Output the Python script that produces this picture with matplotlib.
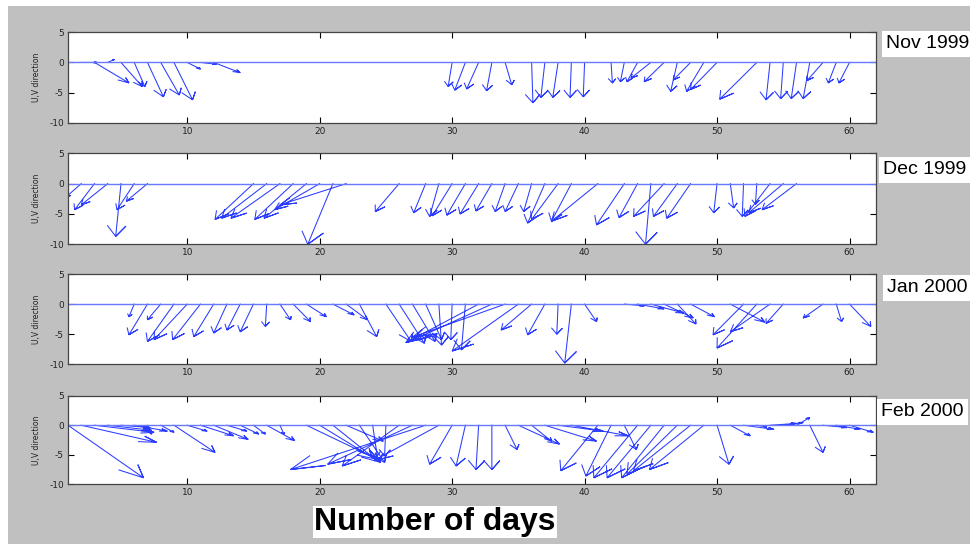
# Feather plots of U,V direction for four months (MATLAB-style)
import numpy as np
import matplotlib
matplotlib.use('Agg')
import matplotlib.pyplot as plt
from matplotlib.patches import Rectangle

plt.rcParams['axes.unicode_minus'] = False

months = ['Nov 1999', 'Dec 1999', 'Jan 2000', 'Feb 2000']

nov_day = [2, 3, 4, 5, 6, 7, 8, 9, 10, 11, 12,
           30, 31, 32, 33, 34, 36, 37, 38, 39, 40, 42, 43, 44, 45, 46, 47, 48, 49, 50,
           53, 54, 55, 56, 57, 58, 59, 60]
nov_u = [1.2, 2.6, 0.5, 1.6, 0.8, 1.2, 1.4, 1.4, 1.0, 1.2, 2.0,
         -0.3, -0.8, -0.9, -0.4, 0.5, 0.1, -0.3, -0.4, -0.1, -0.1, 0.1, -0.3, -0.8, -1.5, -1.5, -0.5, -1.3, -1.3, -2.0,
         -2.8, -0.3, -0.2, -0.4, -0.5, -1.2, -0.6, -0.8]
nov_v = [0.0, -3.4, 0.5, -4.0, -4.0, -5.7, -5.4, -6.2, -1.1, -0.3, -1.7,
         -4.0, -4.6, -4.4, -4.7, -3.7, -6.7, -5.8, -5.8, -5.8, -5.7, -3.4, -3.2, -3.2, -2.6, -3.2, -4.8, -2.9, -4.8, -4.5,
         -6.1, -6.2, -6.0, -6.0, -6.0, -3.0, -3.4, -3.4]

dec_day = [2, 3, 4, 5, 6, 7, 15, 16, 17, 18, 19, 20, 21, 22, 26,
           28, 29, 30, 31, 32, 33, 34, 35, 36, 37, 38, 39, 41, 43, 44, 45, 46, 47, 48,
           50, 51, 52, 53, 54, 55, 56]
dec_u = [-1.2, -1.5, -2.0, -0.4, -1.3, -1.6, -2.9, -3.4, -3.7, -2.9, -3.2, -3.4, -1.9, -5.0, -1.8,
         -0.9, -0.7, -1.5, -1.4, -1.4, -1.2, -0.75, -1.0, -0.6, -1.3, -2.0, -1.5, -3.5, -2.1, -1.4, -0.4, -2.3, -1.8, -1.8,
         -0.25, 0.25, -0.1, -0.1, -1.9, -2.6, -2.6]
dec_v = [-2.3, -4.3, -3.5, -8.7, -4.3, -2.9, -5.9, -5.7, -5.7, -5.9, -5.7, -4.3, -10.0, -3.5, -4.6,
         -4.8, -5.4, -5.3, -5.2, -5.0, -4.5, -4.6, -4.6, -4.6, -6.5, -5.9, -6.2, -6.2, -6.8, -5.6, -10.0, -5.4, -5.4, -5.7,
         -4.8, -4.0, -5.4, -3.4, -5.4, -4.8, -4.3]

jan_day = [6, 7, 8, 9, 10, 11, 12, 13, 14, 15, 16, 17, 18, 19, 21, 22, 23,
           25, 26, 27, 28, 29, 30, 31, 32, 33, 34, 35, 36, 37, 38, 39, 40,
           43, 44, 45, 46, 47, 48, 51, 52, 53, 54, 55, 58, 59, 60]
jan_u = [-0.4, -1.4, -1.0, -2.0, -2.5, -2.1, -1.5, -1.0, -1.0, -1.0, -0.1, 0.8, 1.3, 1.5, 1.6, 1.6, 1.3,
         1.9, 1.9, 1.7, 1.2, 0.2, -0.1, -0.3, -5.5, -6.0, -7.0, -5.0, -2.3, -1.3, -0.1, -0.5, 0.9,
         1.5, 2.0, 2.5, 2.2, 1.4, 1.8, 2.6, -2.3, -3.0, -3.0, -1.3, -1.5, 0.4, 1.6]
jan_v = [-2.1, -5.1, -2.6, -6.2, -5.9, -5.9, -5.4, -4.8, -4.3, -4.6, -3.7, -2.6, -2.9, -2.1, -1.8, -2.6, -5.4,
         -6.2, -6.5, -6.2, -5.9, -6.8, -5.9, -7.6, -6.4, -6.0, -5.5, -7.8, -4.3, -5.1, -5.0, -9.8, -2.9,
         -0.3, -0.8, -1.5, -2.3, -3.3, -2.1, -3.0, -5.1, -7.3, -4.6, -3.2, -2.3, -2.9, -3.7]

feb_day = [1, 2, 3, 4, 5, 6, 7, 8, 9, 10, 11, 12, 13, 14, 15, 16, 17,
           19, 20, 21, 22, 23, 24, 25, 26, 27, 28, 29, 30, 31, 32, 33, 34, 35, 36, 37, 38, 39,
           41, 42, 43, 44, 45, 46, 47, 48, 49, 50, 51, 52, 53, 54, 55, 56, 57, 58, 59, 60]
feb_u = [5.7, 5.7, 4.5, 3.3, 2.2, 2.5, 0.3, 1.0, 3.1, 1.5, 2.5, 2.6, 1.5, 1.4, 0.9, 2.1, 0.3,
         5.4, 4.6, 2.9, 2.8, 1.9, 0.4, -0.1, -4.3, -6.4, -10.2, -4.9, -1.7, -0.7, -0.2, 0.0, 0.9, 3.1, 1.5, 3.9, 3.4, 4.3,
         -2.8, -1.9, 0.9, -3.3, -3.3, -3.2, -3.8, -4.3, -4.1, 0.9, 1.5, 2.3, 0.75, 2.0, 1.5, 1.0, 1.0, 1.8, 1.8, 1.8]
feb_v = [-8.9, -2.9, -1.2, -0.85, -0.4, -1.0, -1.5, -1.2, -4.6, -1.0, -1.8, -2.4, -1.0, -1.5, -1.5, -2.6, -1.5,
         -5.8, -6.3, -5.2, -2.7, -6.3, -6.0, -5.2, -6.9, -6.6, -7.5, -6.0, -6.6, -6.9, -7.5, -7.5, -4.1, -3.2, -2.7, -2.7, -1.0, -1.8,
         -7.7, -8.6, -4.1, -8.9, -8.9, -8.9, -8.3, -7.7, -7.5, -6.6, -1.8, -0.7, -0.3, 0.3, 0.45, 1.3, -4.6, -0.4, -0.7, -1.2]

panels = [(nov_day, nov_u, nov_v), (dec_day, dec_u, dec_v),
          (jan_day, jan_u, jan_v), (feb_day, feb_u, feb_v)]

# same arrow shape as MATLAB feather: shaft plus head at 80% length
arrow = np.array([0, 1, 0.8 + 0.08j, 1, 0.8 - 0.08j])

fig = plt.figure(figsize=(9.8, 5.44), dpi=100, facecolor='white')
fig.add_artist(Rectangle((8 / 980, 0), 962 / 980, 538 / 544, transform=fig.transFigure,
                         facecolor='#c0c0c0', edgecolor='none', zorder=-10))

# axes boxes in pixels (top, bottom)
boxes = [(32.3, 122.7), (153.3, 244.3), (274, 364.3), (395.7, 484.3)]
label_y = [44, 170, 288, 412]
label_x = [886, 883, 887, 881]

for (days, u, v), (top, bot), m, ly, lx in zip(panels, boxes, months, label_y, label_x):
    ax = fig.add_axes([68 / 980, 1 - bot / 544, 808 / 980, (bot - top) / 544])
    xs, ys = [], []
    for d, uu, vv in zip(days, u, v):
        pts = arrow * complex(uu, vv)
        xs += list(d + pts.real) + [np.nan]
        ys += list(pts.imag) + [np.nan]
    ax.plot(xs, ys, color='#2a3cff', lw=0.75, solid_joinstyle='miter')
    ax.axhline(0, color='#6878ff', lw=1.0)
    ax.set_xlim(1, 62)
    ax.set_ylim(-10, 5)
    ax.set_xticks([10, 20, 30, 40, 50, 60])
    ax.set_yticks([-10, -5, 0, 5])
    ax.tick_params(direction='in', length=4, width=0.8, top=True, right=True,
                   labelsize=6.5, labelcolor='#222222', pad=3)
    for s in ax.spines.values():
        s.set_linewidth(0.9)
        s.set_color('#444444')
    ax.set_ylabel('U,V direction', fontsize=5.5, labelpad=6, color='#222222')
    fig.text(lx / 980, 1 - ly / 544, m, fontsize=14, family='Liberation Sans',
             ha='left', va='center',
             bbox=dict(facecolor='white', edgecolor='none', pad=3))

fig.text(435 / 980, 1 - 522 / 544, 'Number of days', fontsize=23, fontweight='bold',
         family='Liberation Sans', ha='center', va='center',
         bbox=dict(facecolor='white', edgecolor='none', pad=1))

fig.savefig('out.png', dpi=100, facecolor=fig.get_facecolor())
